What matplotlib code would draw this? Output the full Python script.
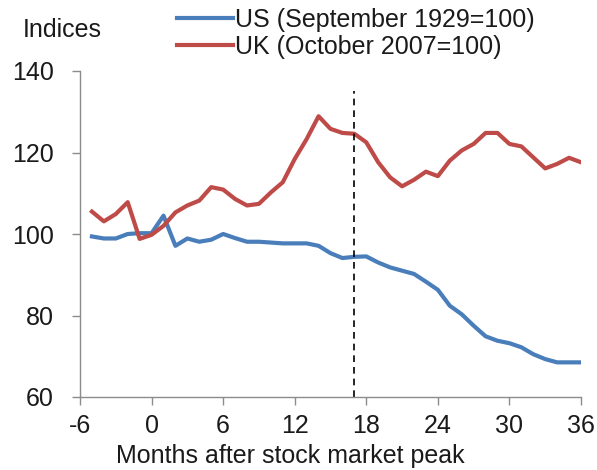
import matplotlib
matplotlib.use("Agg")
import matplotlib.pyplot as plt

plt.rcParams['font.family'] = ['Liberation Sans', 'DejaVu Sans']

months = list(range(-5, 37))
us = [99.4, 98.9, 98.9, 100.0, 100.2, 100.2, 104.5, 97.1, 98.9, 98.1, 98.6, 100.0,
      99.0, 98.1, 98.1, 97.9, 97.7, 97.7, 97.7, 97.1, 95.3, 94.1, 94.4, 94.5,
      93.0, 91.8, 91.0, 90.2, 88.3, 86.3, 82.4, 80.3, 77.5, 74.9, 73.8, 73.2,
      72.2, 70.5, 69.3, 68.5, 68.5, 68.5]
uk = [105.5, 103.1, 104.9, 107.8, 98.8, 99.8, 102.0, 105.3, 107.0, 108.2, 111.5, 110.9,
      108.6, 107.0, 107.4, 110.2, 112.7, 118.4, 123.3, 128.9, 125.8, 124.8, 124.6, 122.5,
      117.6, 113.9, 111.7, 113.3, 115.3, 114.2, 118.0, 120.5, 122.1, 124.8, 124.8, 122.1,
      121.5, 118.8, 116.1, 117.2, 118.7, 117.6]
us_label = "US (September 1929=100)"
uk_label = "UK (October 2007=100)"
xticks = [-6, 0, 6, 12, 18, 24, 30, 36]
yticks = [60, 80, 100, 120, 140]
peak_marker = 17

FS = 18
TXT = '#1a1a1a'

fig = plt.figure(figsize=(5.97, 4.70), dpi=100)
ax = fig.add_axes([80/597, 1-397/470, (581-80)/597, (397-71)/470])

l1, = ax.plot(months, us, color='#4a7ebb', lw=3.0, solid_joinstyle='round', label=us_label)
l2, = ax.plot(months, uk, color='#be4b48', lw=3.0, solid_joinstyle='round', label=uk_label)
ax.plot([peak_marker, peak_marker], [60, 135], color='black', lw=1.2, ls=(0, (4, 3)))

ax.set_xlim(-6, 36)
ax.set_ylim(60, 140)
ax.set_xticks(xticks)
ax.set_xticklabels([str(t) for t in xticks])
ax.set_yticks(yticks)
for s in ['top', 'right']:
    ax.spines[s].set_visible(False)
for s in ['left', 'bottom']:
    ax.spines[s].set_color('#8c8c8c')
    ax.spines[s].set_linewidth(1.0)
ax.tick_params(axis='both', colors='#8c8c8c', labelcolor=TXT, labelsize=FS, width=1.0)
ax.tick_params(axis='y', length=6, pad=13)
ax.tick_params(axis='x', length=6, pad=6)

fig.text(23/597, 1-37/470, "Indices", fontsize=FS, color=TXT, va='baseline', ha='left')
fig.text(290/597, 1-463/470, "Months after stock market peak", fontsize=FS, color=TXT,
         va='baseline', ha='center')

fig.legend(handles=[l1, l2], loc='upper left', bbox_to_anchor=(177/597, 1-8/470),
           frameon=False, fontsize=FS, handlelength=2.25, handletextpad=0.08,
           labelspacing=0.12, borderpad=0, borderaxespad=0, labelcolor=TXT)

fig.savefig("out.png", dpi=100)
